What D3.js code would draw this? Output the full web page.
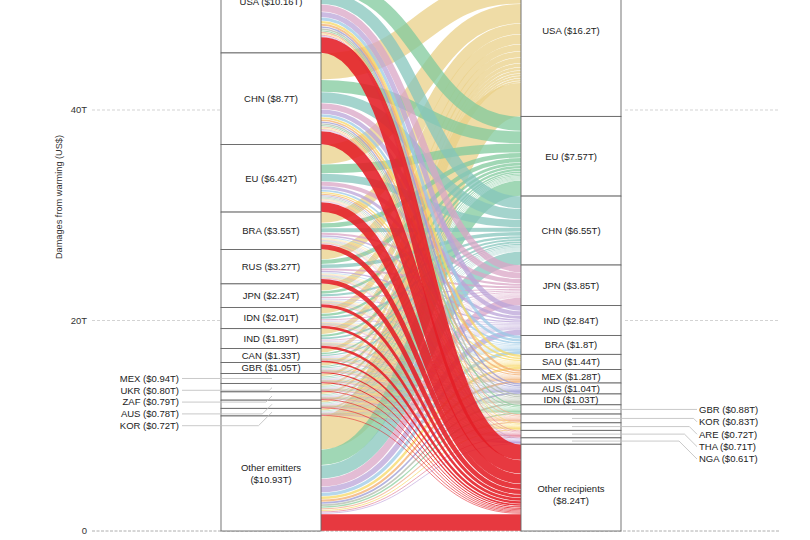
<!DOCTYPE html>
<html><head><meta charset="utf-8">
<script src="https://cdn.jsdelivr.net/npm/d3@7"></script>
<style>
body{margin:0;background:#fff}
svg{display:block;font-family:"Liberation Sans",Arial,Helvetica,sans-serif}
</style>
</head><body>
<svg id="chart" width="810" height="540"></svg>
<script>
// ---- data ----
const emitters = ["USA","CHN","EU","BRA","RUS","JPN","IDN","IND","CAN","GBR","MEX","UKR","ZAF","AUS","KOR","Other emitters"];
const emitterDamages = [10.16,8.7,6.42,3.55,3.27,2.24,2.01,1.89,1.33,1.05,0.94,0.80,0.79,0.78,0.72,10.93];
const emitterValueText = ["10.16","8.7","6.42","3.55","3.27","2.24","2.01","1.89","1.33","1.05","0.94","0.80","0.79","0.78","0.72","10.93"];

const recipients = ["USA","EU","CHN","JPN","IND","BRA","SAU","MEX","AUS","IDN","GBR","KOR","ARE","THA","NGA","Other recipients"];
const recipientDamages = [16.2,7.57,6.55,3.85,2.84,1.8,1.44,1.28,1.04,1.03,0.88,0.83,0.72,0.71,0.61,8.24];
const recipientValueText = ["16.2","7.57","6.55","3.85","2.84","1.8","1.44","1.28","1.04","1.03","0.88","0.83","0.72","0.71","0.61","8.24"];
const recipientColors = ["#e9d088","#80c99c","#85c5bc","#d9a5c6","#bba4d8","#9ccae6","#f7d864","#f3ae6e","#9b99d3","#b2bba9","#8ccf9e","#f0ae8e","#f7db6e","#e4879f","#b898d6","#e41e26"];

const tickValues = [0,20,40];
const tickLabels = ["0","20T","40T"];
const axisTitle = "Damages from warming (US$)";

// ---- layout ----
const svg = d3.select("#chart");
const y = d3.scaleLinear().domain([0,40]).range([531,110]);
const k = (y(0) - y(1)); // px per T
const L = {x0:221, x1:321}, R = {x0:521, x1:621};

function stack(vals){
  const out = []; let acc = d3.sum(vals);
  vals.forEach(v => { out.push({top: y(acc), bottom: y(acc - v), v}); acc -= v; });
  return out;
}
const leftNodes = stack(emitterDamages);
const rightNodes = stack(recipientDamages);

// flows: each emitter's damages split across recipients in proportion to recipient damages
const totalR = d3.sum(recipientDamages);
const flows = [];
const leftOff = leftNodes.map(n => n.top);
const rightOff = rightNodes.map(n => n.top);
emitterDamages.forEach((lv,i) => recipientDamages.forEach((rv,j) => {
  flows.push({i, j, value: lv * rv / totalR});
}));
flows.slice().sort((a,b)=>a.i-b.i||a.j-b.j).forEach(f => {
  const w = f.value * k; f.y0 = leftOff[f.i] + w/2; leftOff[f.i] += w; f.w = w;
});
flows.slice().sort((a,b)=>a.j-b.j||a.i-b.i).forEach(f => {
  const w = f.value * k; f.y1 = rightOff[f.j] + w/2; rightOff[f.j] += w;
});

// ---- gridlines ----
const grid = svg.append("g");
tickValues.forEach((t,idx) => {
  if (t === 0) {
    grid.append("line").attr("x1",92).attr("x2",780).attr("y1",y(t)).attr("y2",y(t))
      .attr("stroke","#999").attr("stroke-width",0.8).attr("stroke-dasharray","3,1.5");
  } else {
    [[92,L.x0],[R.x1+4,780]].forEach(([a,b]) => grid.append("line")
      .attr("x1",a).attr("x2",b).attr("y1",y(t)).attr("y2",y(t))
      .attr("stroke","#c8c8c8").attr("stroke-width",0.8).attr("stroke-dasharray","3,2"));
  }
  svg.append("text").attr("x",87).attr("y",y(t)).attr("dy","0.35em")
    .attr("text-anchor","end").attr("font-size",9.5).attr("fill","#333").text(tickLabels[idx]);
});
svg.append("text").attr("transform",`translate(62,${197}) rotate(-90)`)
  .attr("text-anchor","middle").attr("font-size",9.2).attr("fill","#333").text(axisTitle);

// ---- flows ----
const link = d3.linkHorizontal();
const fg = svg.append("g").attr("fill","none");
flows.slice().sort((a,b)=>a.j-b.j||a.i-b.i).forEach(f => {
  fg.append("path")
    .attr("d", link({source:[L.x1, f.y0], target:[R.x0, f.y1]}))
    .attr("stroke", recipientColors[f.j])
    .attr("stroke-opacity", f.j === 15 ? 0.88 : 0.75)
    .attr("stroke-width", Math.max(f.w - 0.5, 0.4));
});

// ---- nodes ----
function drawNodes(nodes, names, texts, X, side){
  const g = svg.append("g");
  nodes.forEach((n,i) => {
    g.append("rect").attr("x",X.x0).attr("y",n.top).attr("width",X.x1-X.x0)
      .attr("height",n.bottom-n.top).attr("fill","#fff").attr("stroke","#666").attr("stroke-width",0.9);
  });
  const cx = (X.x0+X.x1)/2;
  let prevLabel = -Infinity;
  nodes.forEach((n,i) => {
    const c = (n.top+n.bottom)/2;
    const label = `${names[i]} ($${texts[i]}T)`;
    if (i === nodes.length-1) {
      const off = side === "left" ? [-6,6] : [1,13];
      g.append("text").attr("x",cx).attr("y",c+off[0]).attr("dy","0.35em").attr("text-anchor","middle")
        .attr("font-size",9.5).attr("fill","#222").text(names[i]);
      g.append("text").attr("x",cx).attr("y",c+off[1]).attr("dy","0.35em").attr("text-anchor","middle")
        .attr("font-size",9.5).attr("fill","#222").text(`($${texts[i]}T)`);
    } else if (i < 10) {
      const ty = (side === "left" && i === 0) ? c + 2 : c;
      g.append("text").attr("x",cx).attr("y",ty).attr("dy","0.35em").attr("text-anchor","middle")
        .attr("font-size",9.5).attr("fill","#222").text(label);
    } else {
      const gap = side === "left" ? 11.8 : 12.4;
      const ly = Math.max(c, prevLabel + gap); prevLabel = ly;
      const dy = ly - c;
      if (side === "left") {
        const pts = [[182,ly],[272-dy,ly],[272,c]];
        g.append("path").attr("d", d3.line()(pts)).attr("fill","none").attr("stroke","#bbb").attr("stroke-width",0.8);
        g.append("text").attr("x",179).attr("y",ly).attr("dy","0.35em").attr("text-anchor","end")
          .attr("font-size",9.5).attr("fill","#222").text(label);
      } else {
        const pts = [[572,c],[697-dy,c],[697,ly]];
        g.append("path").attr("d", d3.line()(pts)).attr("fill","none").attr("stroke","#bbb").attr("stroke-width",0.8);
        g.append("text").attr("x",699).attr("y",ly).attr("dy","0.35em").attr("text-anchor","start")
          .attr("font-size",9.5).attr("fill","#222").text(label);
      }
    }
  });
}
drawNodes(leftNodes, emitters, emitterValueText, L, "left");
drawNodes(rightNodes, recipients, recipientValueText, R, "right");
</script>
</body></html>
